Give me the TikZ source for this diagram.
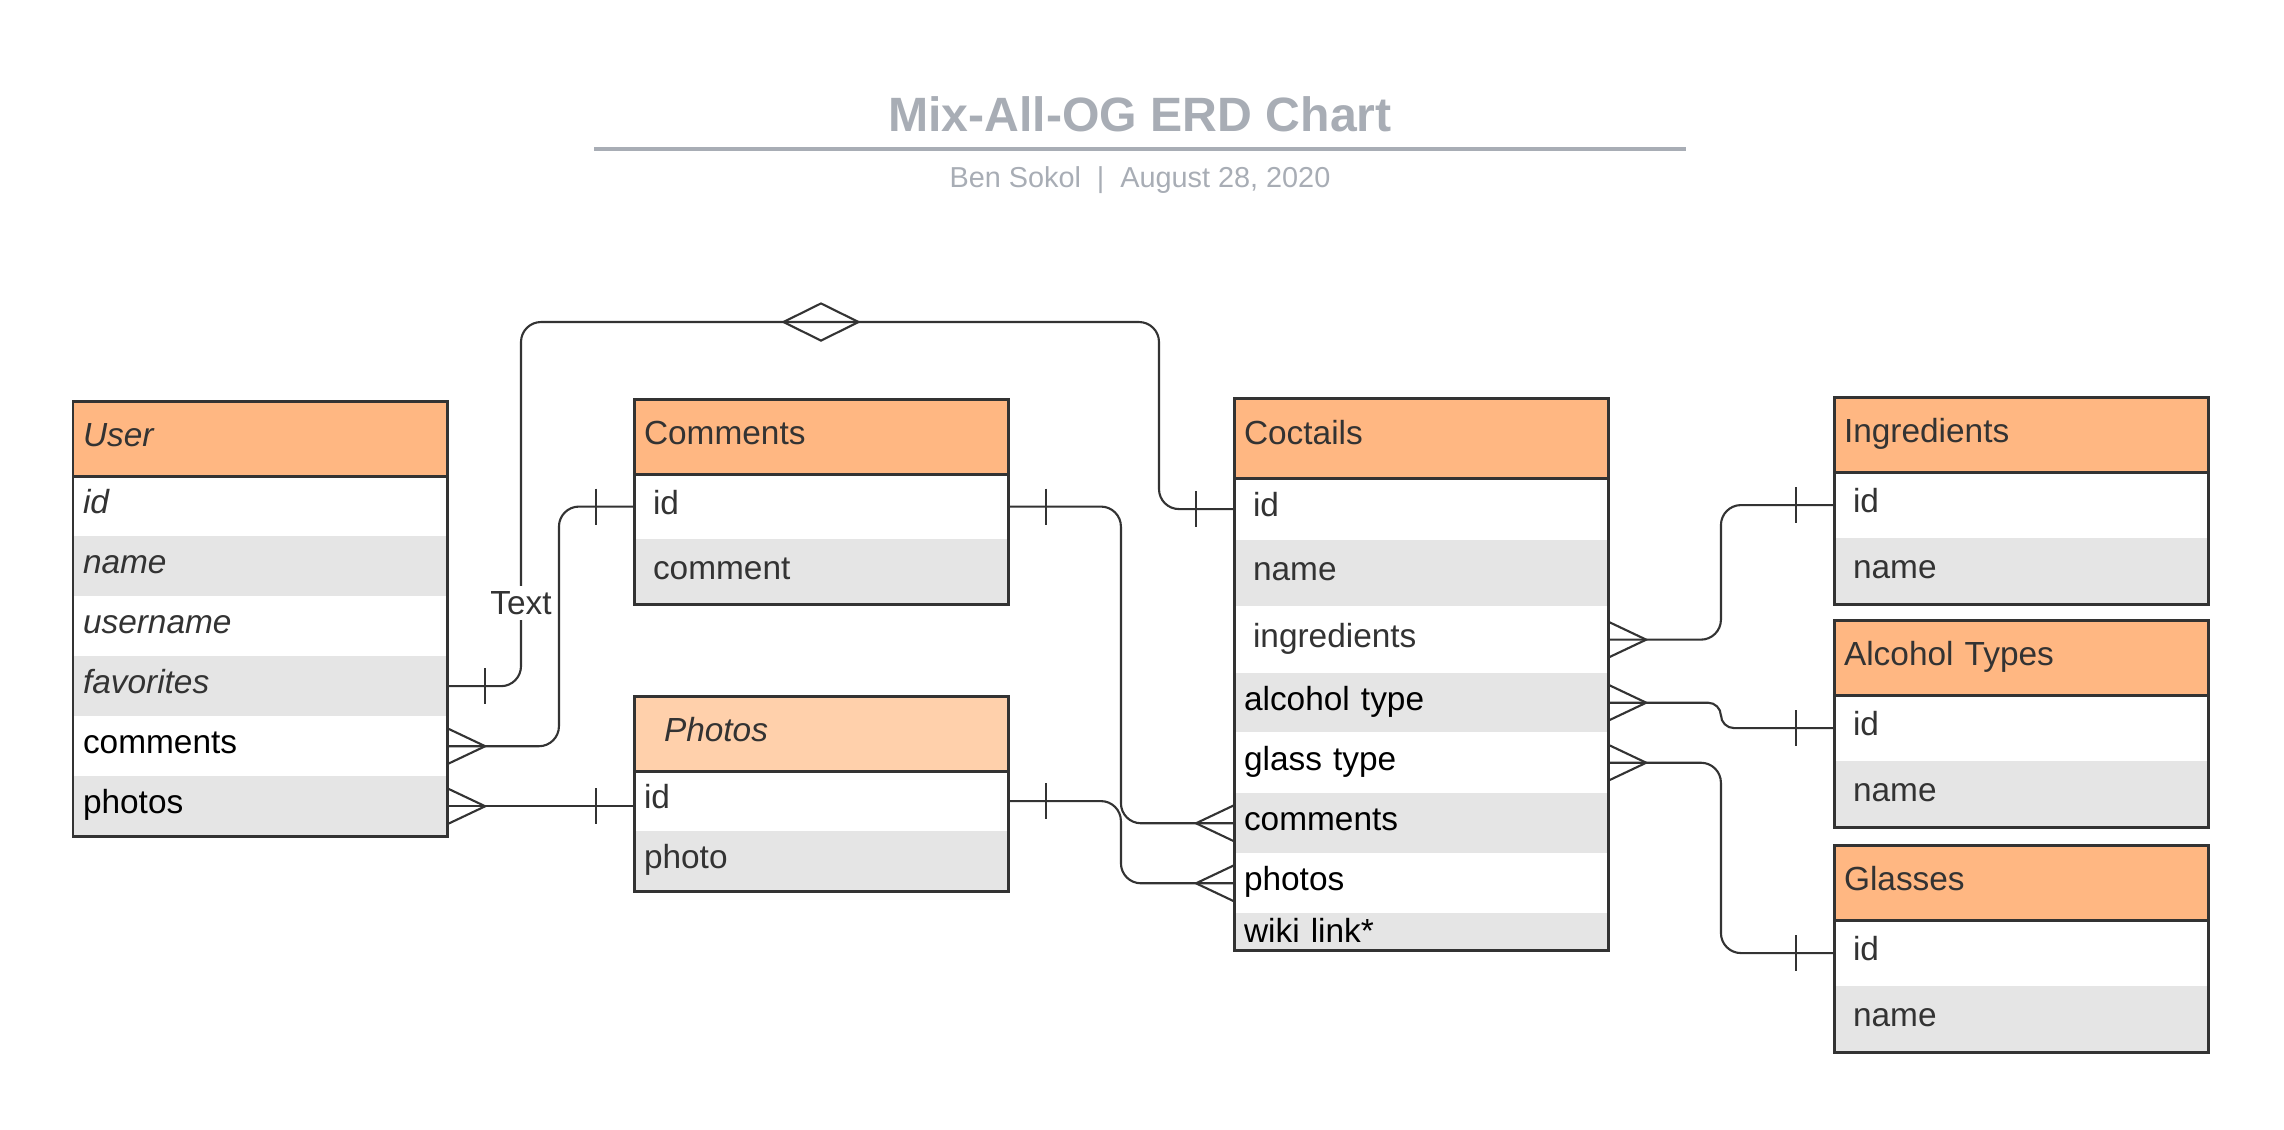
\documentclass[tikz,border=0pt]{standalone}
\usepackage{fontspec}
\setmainfont{Liberation Sans}
\usetikzlibrary{positioning,shapes.geometric}

\definecolor{hdrc}{RGB}{255,183,130}
\definecolor{hdrl}{RGB}{255,208,171}
\definecolor{rowg}{RGB}{229,229,229}
\definecolor{ink}{RGB}{51,51,51}
\definecolor{ttl}{RGB}{168,173,181}

\begin{document}
\begin{tikzpicture}[
  x=0.01cm, y=-0.01cm,
  font=\fontsize{9.5}{11}\selectfont,
  node distance=0pt,
  cell/.style={inner xsep=0.1cm, inner ysep=0pt, outer sep=0pt, text width=3.54cm, align=left,
    text height=0.73em, text depth=0.3em, text=ink, minimum height=0.6cm},
  hdr/.style={cell, fill=hdrc, minimum height=0.75cm, text depth=0.27em, anchor=north west},
  wt/.style={cell, fill=white},
  gy/.style={cell, fill=rowg},
  ind/.style={inner xsep=0.19cm, text width=3.36cm},
  blk/.style={text=black},
  frame/.style={draw=ink, line width=0.85pt},
  link/.style={draw=ink, line width=0.6pt, rounded corners=0.2cm},
  tip/.style={draw=ink, line width=0.6pt},
  crow/.pic={\draw[tip] (0,-18) -- (38,0) -- (0,18);},
  bar/.pic={\draw[tip] (38,-18) -- (38,18);}
]
\useasboundingbox (0,0) rectangle (2284,1129);

% title block
\node[anchor=base, text=ttl, font=\fontsize{13.7}{16}\selectfont\bfseries] (title) at (1140,131) {Mix-All-OG ERD Chart};
\draw[ttl, line width=0.95pt] (594,149) -- (1686,149);
\node[anchor=base, text=ttl, font=\fontsize{8.2}{10}\selectfont] (sub) at (1140,187) {Ben Sokol\hspace{0.55em}|\hspace{0.55em}August 28, 2020};

% User
\node[hdr] (user) at (73,401) {\textit{User}};
\node[wt, below=of user] (user-id) {\textit{id}};
\node[gy, below=of user-id] (user-nm) {\textit{name}};
\node[wt, below=of user-nm] (user-un) {\textit{username}};
\node[gy, below=of user-un] (user-fav) {\textit{favorites}};
\node[wt, blk, below=of user-fav] (user-co) {comments};
\node[gy, blk, below=of user-co] (user-ph) {photos};
\draw[frame] (user.north west) rectangle (user-ph.south east) (user.south west) -- (user.south east);

% Comments
\node[hdr] (com) at (634,399) {Comments};
\node[wt, ind, minimum height=0.65cm, below=of com] (com-id) {id};
\node[gy, ind, minimum height=0.65cm, below=of com-id] (com-tx) {comment};
\draw[frame] (com.north west) rectangle (com-tx.south east) (com.south west) -- (com.south east);

% Photos
\node[hdr, fill=hdrl, inner xsep=0.3cm, text width=3.14cm] (pho) at (634,696) {\textit{Photos}};
\node[wt, below=of pho] (pho-id) {id};
\node[gy, below=of pho-id] (pho-ph) {photo};
\draw[frame] (pho.north west) rectangle (pho-ph.south east) (pho.south west) -- (pho.south east);

% Coctails
\node[hdr, minimum height=0.8cm, text depth=0.38em] (cok) at (1234,398) {Coctails};
\node[wt, ind, minimum height=0.62cm, below=of cok] (cok-id) {id};
\node[gy, ind, minimum height=0.66cm, below=of cok-id] (cok-nm) {name};
\node[wt, ind, minimum height=0.67cm, below=of cok-nm] (cok-ing) {ingredients};
\node[gy, blk, minimum height=0.59cm, below=of cok-ing] (cok-alc) {alcohol type};
\node[wt, blk, minimum height=0.61cm, below=of cok-alc] (cok-gl) {glass type};
\node[gy, blk, below=of cok-gl] (cok-co) {comments};
\node[wt, blk, below=of cok-co] (cok-ph) {photos};
\node[gy, blk, minimum height=0.37cm, text depth=0.1em, below=of cok-ph] (cok-wk) {wiki link*};
\draw[frame] (cok.north west) rectangle (cok-wk.south east) (cok.south west) -- (cok.south east);

% lookup tables
\foreach \t/\n/\y in {ing/Ingredients/397, alc/Alcohol Types/620, gla/Glasses/845} {
  \node[hdr] (\t) at (1834,\y) {\n};
  \node[wt, ind, minimum height=0.66cm, below=of \t] (\t-id) {id};
  \node[gy, ind, minimum height=0.66cm, below=of \t-id] (\t-nm) {name};
  \draw[frame] (\t.north west) rectangle (\t-nm.south east) (\t.south west) -- (\t.south east);
}

% favorites -> coctails, via the relation
\coordinate (fvl) at (521,322);
\coordinate (fvr) at (1159,322);
\draw[link] (user-fav.east) -| (fvl) -- (fvr) |- (cok-id.west);
\node[diamond, aspect=2, draw=ink, line width=0.6pt, minimum width=0.76cm, minimum height=0.38cm, inner sep=0pt] (rel) at (821,322) {};
\node[fill=white, inner sep=0.05cm, text=ink] (lbl) at (521,603) {Text};
\pic at (user-fav.east) {bar};
\pic[xscale=-1] at (cok-id.west) {bar};

% user -> comments / photos
\draw[link] (user-co.east) -| ([xshift=-0.75cm]com-id.west) -- (com-id.west);
\pic at (user-co.east) {crow};
\pic[xscale=-1] at (com-id.west) {bar};
\draw[link] (user-ph.east) -- (user-ph.east -| pho-id.west);
\pic at (user-ph.east) {crow};
\pic[xscale=-1] at (user-ph.east -| pho-id.west) {bar};

% comments / photos -> coctails
\draw[link] (com-id.east) -| ([xshift=-1.13cm]cok-co.west) -- (cok-co.west);
\pic at (com-id.east) {bar};
\pic[xscale=-1] at (cok-co.west) {crow};
\draw[link] (pho-id.east) -| ([xshift=-1.13cm]cok-ph.west) -- (cok-ph.west);
\pic at (pho-id.east) {bar};
\pic[xscale=-1] at (cok-ph.west) {crow};

% coctails -> lookups
\draw[link] (cok-ing.east) -| ([xshift=-1.13cm]ing-id.west) -- (ing-id.west);
\draw[link, rounded corners=0.13cm] (cok-alc.east) -| ([xshift=-1.13cm]alc-id.west) -- (alc-id.west);
\draw[link] (cok-gl.east) -| ([xshift=-1.13cm]gla-id.west) -- (gla-id.west);
\foreach \r/\s in {cok-ing/ing-id, cok-alc/alc-id, cok-gl/gla-id} {
  \pic at (\r.east) {crow};
  \pic[xscale=-1] at (\s.west) {bar};
}
\end{tikzpicture}
\end{document}
